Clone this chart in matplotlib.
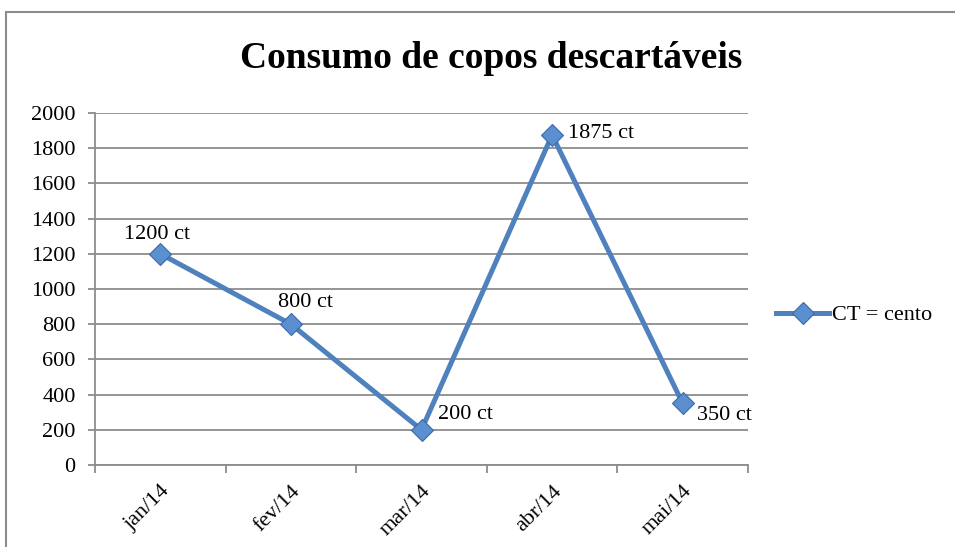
import matplotlib.pyplot as plt
from matplotlib.patches import Rectangle

# data
months = ["jan/14", "fev/14", "mar/14", "abr/14", "mai/14"]
values = [1200, 800, 200, 1875, 350]
labels = ["1200 ct", "800 ct", "200 ct", "1875 ct", "350 ct"]
# label placement: (dx, dy) in pixels from the point, and anchors
label_offset = [(-3, 10), (15, 12), (16, 15), (16, 1), (14, -12)]
label_anchor = [("center", "bottom"), ("center", "bottom"), ("left", "center"),
                ("left", "center"), ("left", "center")]

plt.rcParams["font.family"] = ["Liberation Serif", "DejaVu Serif"]

W, H = 955, 547
fig = plt.figure(figsize=(W / 100, H / 100), dpi=100)

# chart frame (runs off the right and bottom edges)
frame = Rectangle((6 / W, -0.1), 1.1, 1 - 12 / H + 0.1, transform=fig.transFigure,
                  facecolor="white", edgecolor="#8c8c8c", linewidth=1.5, zorder=-10)
fig.add_artist(frame)

ax = fig.add_axes([95 / W, 1 - 465 / H, (748 - 95) / W, (465 - 113) / H])
ax.set_facecolor("none")

x = list(range(len(months)))
ax.plot(x, values, color="#4F81BD", linewidth=3.6, marker="D", markersize=11,
        markerfacecolor="#5b8fd0", markeredgecolor="#3a6aa8", markeredgewidth=0.8,
        label="CT = cento", zorder=3, clip_on=False)

px = 0.72  # points per pixel at 100 dpi
for xi, v, txt, (dx, dy), (ha, va) in zip(x, values, labels, label_offset, label_anchor):
    ax.annotate(txt, (xi, v), xytext=(dx * px, dy * px), textcoords="offset points",
                ha=ha, va=va, fontsize=16)

ax.set_xlim(-0.5, len(months) - 0.5)
ax.set_ylim(0, 2000)
ax.set_yticks(range(0, 2001, 200))
ax.yaxis.grid(True, color="#8c8c8c", linewidth=1.3)
ax.set_axisbelow(True)

ax.set_xticks(x)
ax.set_xticklabels(months, rotation=45, ha="right", rotation_mode="anchor", fontsize=16)
ax.tick_params(axis="x", length=0, pad=12)
ax.set_xticks([i - 0.5 for i in range(len(months) + 1)], minor=True)
ax.tick_params(axis="x", which="minor", length=6, color="#8c8c8c", width=1.3)
ax.tick_params(axis="y", length=5, color="#8c8c8c", width=1.3, labelsize=16, pad=9)

for s in ["top", "right"]:
    ax.spines[s].set_visible(False)
for s in ["left", "bottom"]:
    ax.spines[s].set_color("#8c8c8c")
    ax.spines[s].set_linewidth(1.3)

fig.text(491 / W, 1 - 58 / H, "Consumo de copos descartáveis", ha="center", va="center",
         fontsize=27, fontweight="bold")

leg = ax.legend(loc="center left", bbox_to_anchor=(776 / W, 1 - 315 / H),
                bbox_transform=fig.transFigure, frameon=False, fontsize=16,
                handlelength=2.4, handletextpad=0.1, borderpad=0, borderaxespad=0)

fig.savefig("out.png", dpi=100)
